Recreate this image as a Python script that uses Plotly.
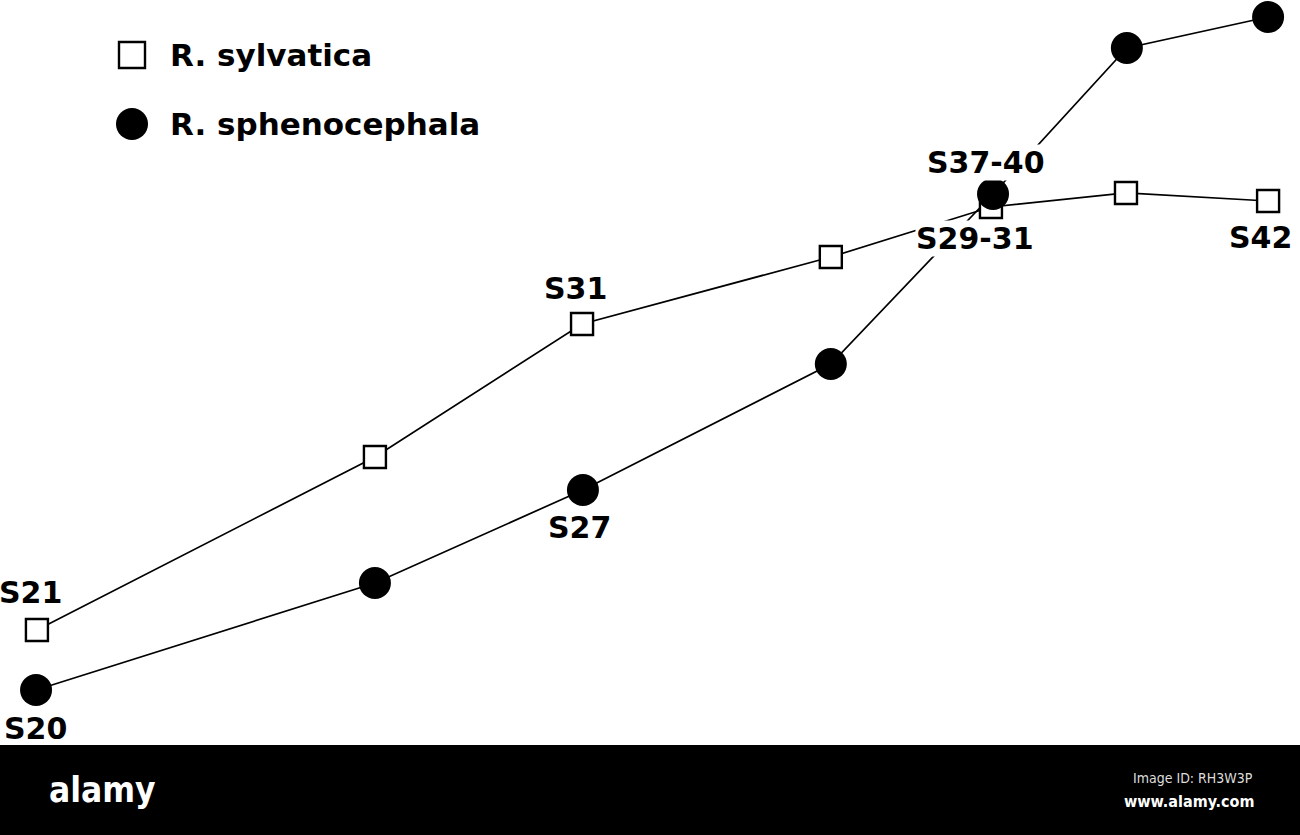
import plotly.graph_objects as go

# ---- data (arbitrary developmental-time / size units) ----
series_names = ["R. sylvatica", "R. sphenocephala"]

sylvatica_x = [1.25, 12.69, 19.70, 28.12, 33.54, 38.11, 42.92]
sylvatica_y = [24.55, 45.27, 61.20, 69.22, 75.21, 76.89, 75.93]

sphenocephala_x = [1.22, 12.69, 19.73, 28.12, 33.61, 38.14, 42.92]
sphenocephala_y = [17.37, 30.18, 41.32, 56.41, 76.77, 94.25, 97.96]

# stage labels: (text, series index 0=sylvatica 1=sphenocephala, point index)
stage_labels = ["S21", "S20", "S31", "S27", "S37-40", "S29-31", "S42"]
stage_series = [0, 1, 0, 1, 1, 0, 0]
stage_point = [0, 0, 2, 2, 4, 4, 6]

# ---- styling / placement ----
FONT = "DejaVu Sans"
label_shift = {  # pixel offsets of each label from its point
    "S21": (-6, 38), "S20": (-1, -39), "S31": (-7, 35), "S27": (-3, -38),
    "S37-40": (-7, 31), "S29-31": (-16, -31), "S42": (-8, -37),
}
occluding = {"S37-40", "S29-31"}

fig = go.Figure()
# sphenocephala connecting line underneath everything
fig.add_trace(go.Scatter(
    x=sphenocephala_x, y=sphenocephala_y, mode="lines", name=series_names[1],
    line=dict(color="black", width=1.7), showlegend=False, hoverinfo="skip"))
fig.add_trace(go.Scatter(
    x=sylvatica_x, y=sylvatica_y, mode="lines+markers", name=series_names[0],
    line=dict(color="black", width=1.7),
    marker=dict(symbol="square", size=22, color="white", line=dict(color="black", width=2.4)),
    showlegend=False, hoverinfo="skip"))
fig.add_trace(go.Scatter(
    x=sphenocephala_x, y=sphenocephala_y, mode="markers", name=series_names[1],
    marker=dict(symbol="circle", size=32, color="black", line=dict(color="black", width=0)),
    showlegend=False, hoverinfo="skip"))

xs = [sylvatica_x, sphenocephala_x]
ys = [sylvatica_y, sphenocephala_y]
annotations = []
for txt, s, i in zip(stage_labels, stage_series, stage_point):
    dx, dy = label_shift[txt]
    annotations.append(dict(
        x=xs[s][i], y=ys[s][i], xref="x", yref="y", text=txt, showarrow=False,
        xanchor="center", yanchor="middle", xshift=dx, yshift=dy,
        font=dict(family=FONT, size=30, color="black", weight="bold"),
        bgcolor="white" if txt in occluding else "rgba(0,0,0,0)", borderpad=0))

# legend (drawn manually for large symbols)
W, H = 1300, 835
legend_rows = [55, 124]
shapes = [
    dict(type="rect", xref="paper", yref="paper", xsizemode="pixel", ysizemode="pixel",
         xanchor=132 / W, yanchor=1 - legend_rows[0] / H, x0=-13, x1=13, y0=-13, y1=13,
         fillcolor="white", line=dict(color="black", width=2.4)),
    dict(type="circle", xref="paper", yref="paper", xsizemode="pixel", ysizemode="pixel",
         xanchor=132 / W, yanchor=1 - legend_rows[1] / H, x0=-16, x1=16, y0=-16, y1=16,
         fillcolor="black", line=dict(color="black", width=0)),
    # bottom watermark bar of the source image
    dict(type="rect", xref="paper", yref="paper", x0=0, x1=1, y0=0, y1=90 / H,
         fillcolor="black", line=dict(width=0), layer="above"),
]
for name, row in zip(series_names, legend_rows):
    annotations.append(dict(
        x=168 / W, y=1 - row / H, xref="paper", yref="paper", text=name, showarrow=False,
        xanchor="left", yanchor="middle",
        font=dict(family=FONT, size=31, color="black", weight="bold")))

annotations += [
    dict(x=102 / W, y=1 - 790 / H, xref="paper", yref="paper", text="alamy", showarrow=False,
         xanchor="center", yanchor="middle",
         font=dict(family="DejaVu Sans Condensed", size=35, color="white", weight="bold")),
    dict(x=1193 / W, y=1 - 778 / H, xref="paper", yref="paper", text="Image ID: RH3W3P",
         showarrow=False, xanchor="center", yanchor="middle",
         font=dict(family="DejaVu Sans Condensed", size=14, color="#dddddd")),
    dict(x=1189 / W, y=1 - 801 / H, xref="paper", yref="paper", text="www.alamy.com",
         showarrow=False, xanchor="center", yanchor="middle",
         font=dict(family="DejaVu Sans Condensed", size=16, color="white", weight="bold")),
]

fig.update_layout(
    width=W, height=H, margin=dict(l=0, r=0, t=0, b=0),
    paper_bgcolor="white", plot_bgcolor="white",
    xaxis=dict(range=[0, 44], visible=False, fixedrange=True),
    yaxis=dict(range=[0, 100], visible=False, fixedrange=True),
    shapes=shapes, annotations=annotations, showlegend=False,
)
fig.write_html(
    "out.html",
    config={"displayModeBar": False},
    post_script="document.body.style.margin='0';document.body.style.overflow='hidden';",
)
